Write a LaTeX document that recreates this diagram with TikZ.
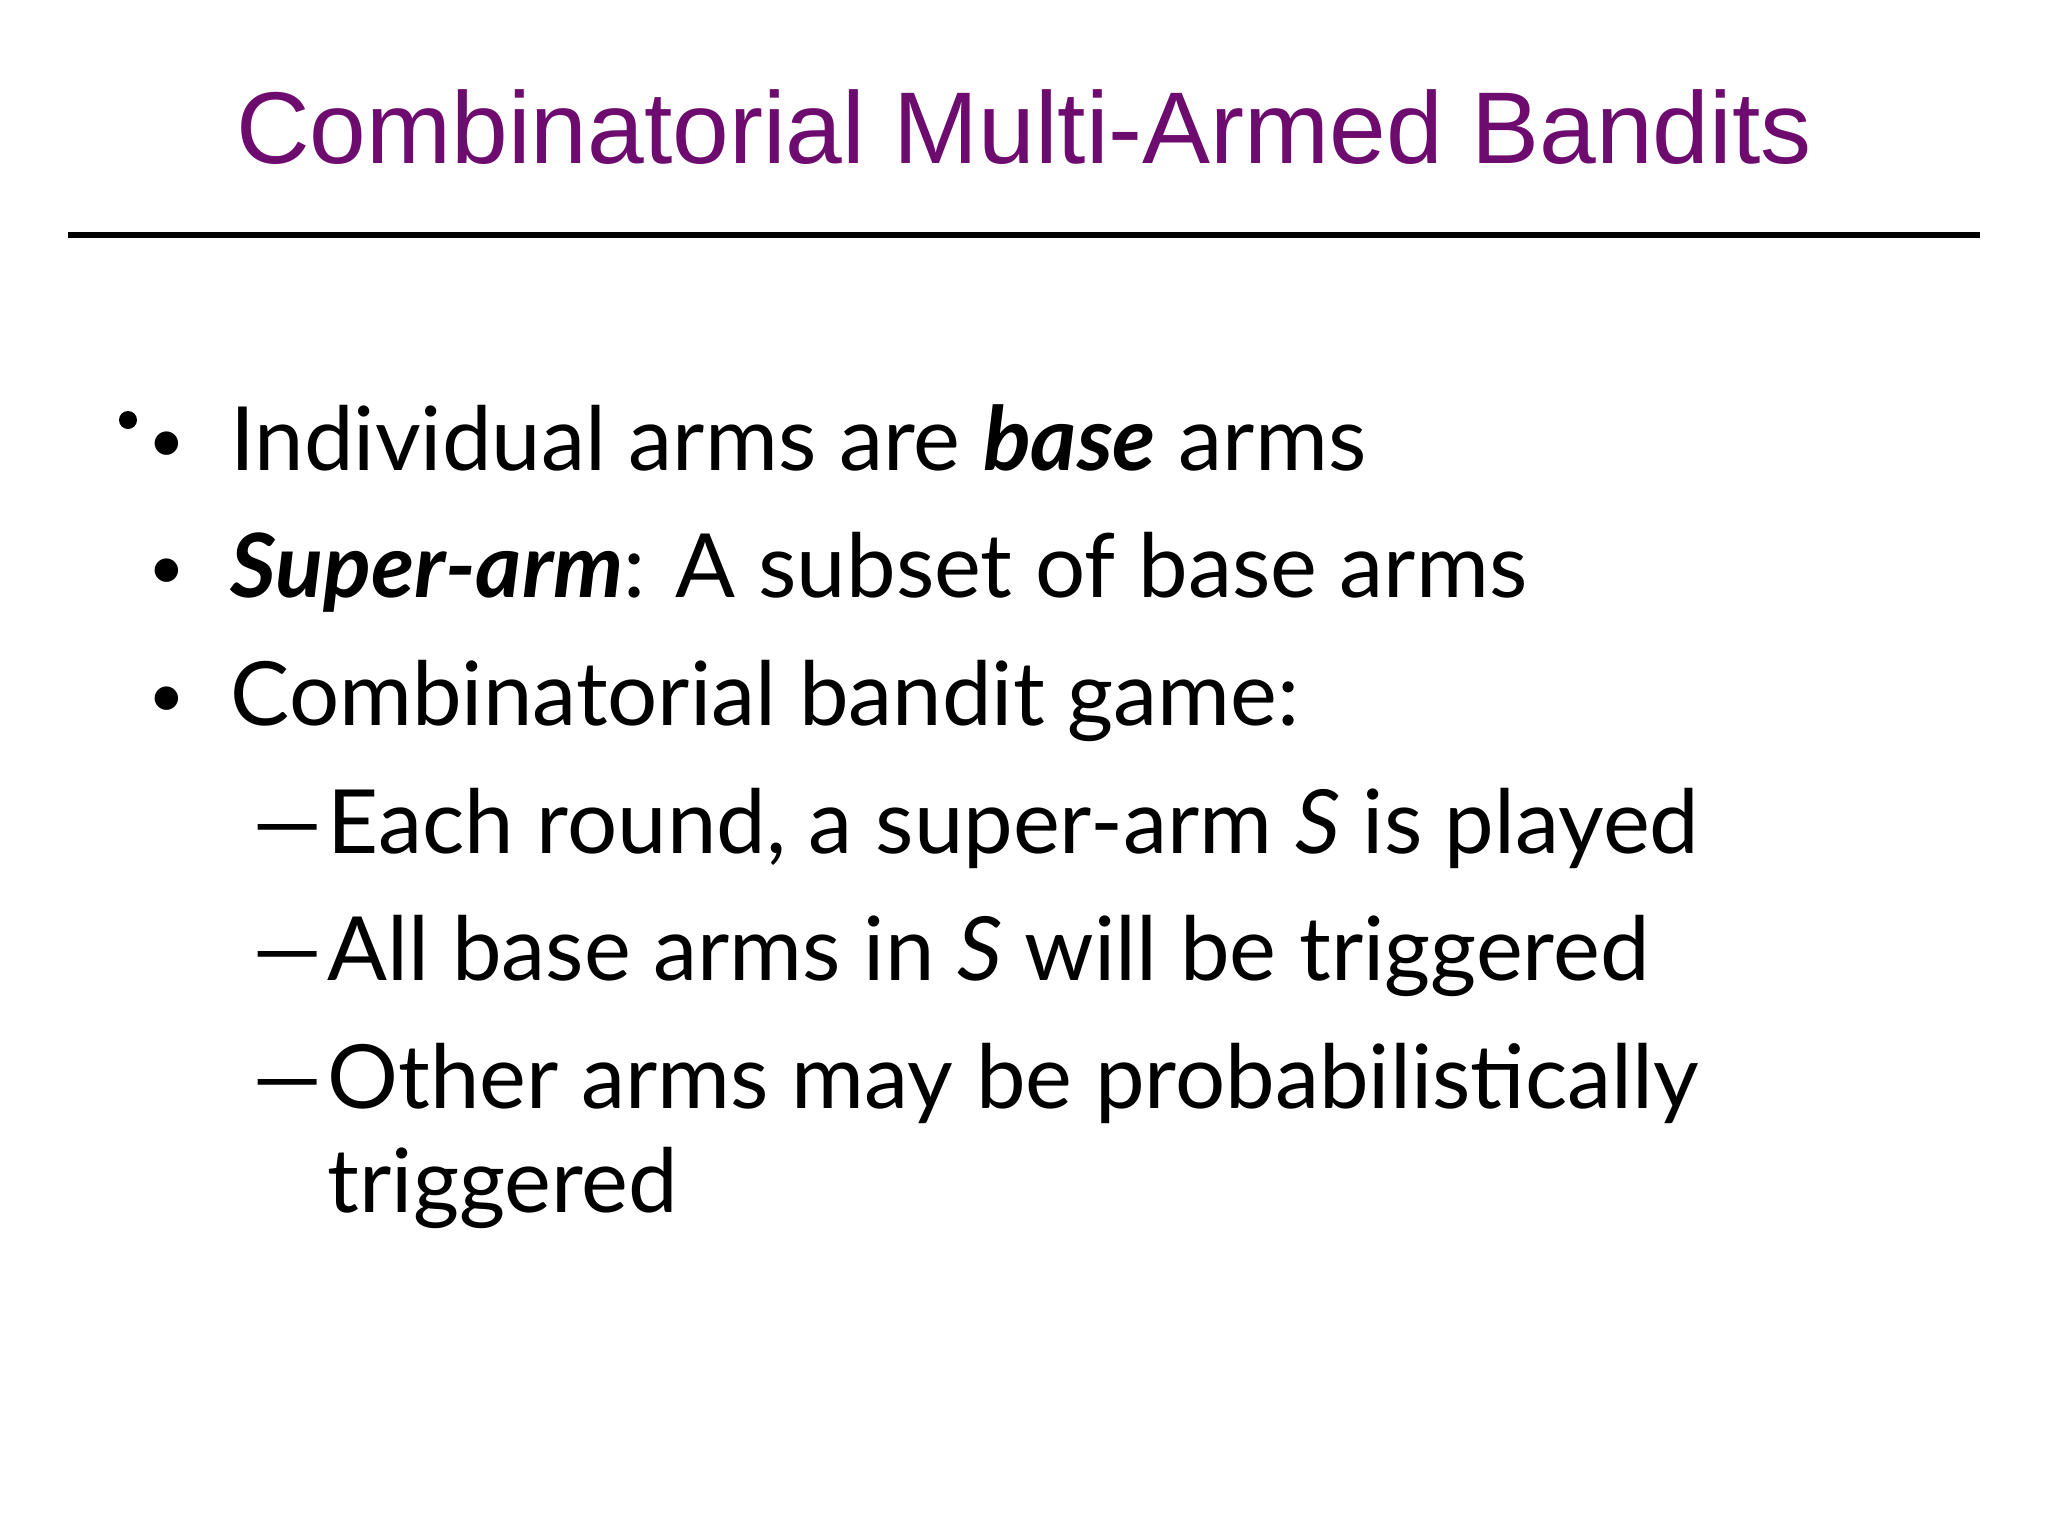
\documentclass[tikz,border=0pt]{standalone}
\usepackage{fontspec}
\setmainfont{Lato}
\newfontfamily\titlefont{Liberation Sans}
\definecolor{ttl}{HTML}{6E0B6E}
\begin{document}
\begin{tikzpicture}[x=0.01cm,y=-0.01cm,
  body/.style={anchor=base west,inner sep=0pt,font=\fontsize{25.2}{30}\selectfont},
  bul/.style={anchor=base,inner sep=0pt,font=\fontsize{18}{30}\selectfont}]
\fill[white] (0,0) rectangle (2048,1536);
\useasboundingbox (0,0) rectangle (2048,1536);
\node[anchor=base,inner sep=0pt,text=ttl,font=\titlefont\fontsize{29}{36}\selectfont] (title) at (1024,163) {Combinatorial Multi-Armed Bandits};
\coordinate (rl) at (68,235); \coordinate (rr) at (1980,235);
\draw[line width=1.6pt] (rl) -- (rr);
\fill (128,420) circle (9) coordinate (stray);
\node[bul] (b1) at (167,462) {•};
\node[body] (t1) at (230,470) {Individual arms are \textbf{\textit{base}} arms};
\node[bul] (b2) at (167,589) {•};
\node[body] (t2) at (230,597) {\textbf{\textit{Super-arm}}: A subset of base arms};
\node[bul] (b3) at (167,717) {•};
\node[body] (t3) at (230,725) {Combinatorial bandit game:};
\node[body] (d1) at (252,853) {—};
\node[body] (s1) at (327,853) {Each round, a super-arm \textit{S} is played};
\node[body] (d2) at (252,980) {—};
\node[body] (s2) at (327,980) {All base arms in \textit{S} will be triggered};
\node[body] (d3) at (252,1108) {—};
\node[body] (s3) at (327,1108) {Other arms may be probabilistically};
\node[body] (s4) at (327,1212) {triggered};
\end{tikzpicture}
\end{document}
